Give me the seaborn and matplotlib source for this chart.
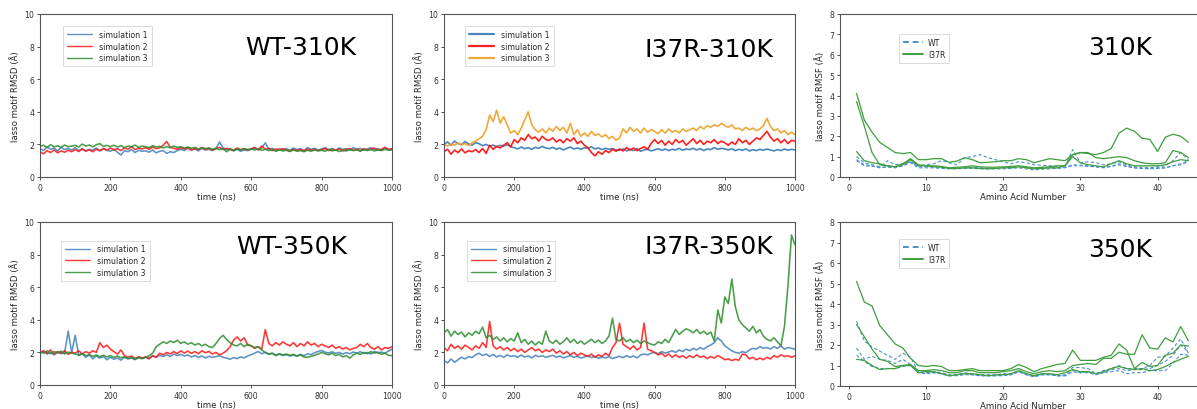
import numpy as np
import pandas as pd
import matplotlib
matplotlib.use("Agg")
import matplotlib.pyplot as plt
import seaborn as sns

# ---------------- data ----------------
time_ns = list(range(0, 1001, 10))
residues = list(range(1, 45))

wt310_s1 = [1.75,1.62,1.85,1.70,1.78,1.60,1.82,1.68,1.75,1.65,
            1.80,1.62,1.74,1.58,1.70,1.66,1.78,1.60,1.72,1.64,
            1.58,1.70,1.52,1.35,1.62,1.55,1.68,1.50,1.64,1.58,
            1.60,1.52,1.66,1.48,1.58,1.62,1.45,1.55,1.50,1.62,
            1.70,1.62,1.78,1.66,1.72,1.60,1.76,1.65,1.70,1.62,
            1.75,2.15,1.80,1.68,1.74,1.60,1.70,1.58,1.66,1.62,
            1.70,1.82,1.65,1.78,2.10,1.70,1.76,1.62,1.72,1.66,
            1.74,1.64,1.78,1.68,1.75,1.62,1.80,1.70,1.76,1.66,
            1.72,1.80,1.68,1.75,1.64,1.78,1.70,1.74,1.66,1.80,
            1.70,1.76,1.64,1.72,1.80,1.68,1.74,1.66,1.78,1.70,
            1.72]
wt310_s2 = [1.55,1.42,1.62,1.50,1.66,1.48,1.60,1.52,1.64,1.55,
            1.68,1.56,1.72,1.60,1.66,1.55,1.70,1.62,1.75,1.65,
            1.78,1.66,1.74,1.62,1.80,1.70,1.86,1.68,1.78,1.72,
            1.80,1.70,1.84,1.74,1.78,1.95,2.18,1.82,1.76,1.70,
            1.80,1.72,1.78,1.66,1.74,1.68,1.80,1.70,1.76,1.66,
            1.74,1.82,1.68,1.76,1.70,1.64,1.78,1.68,1.74,1.66,
            1.72,1.80,1.68,1.90,1.70,1.76,1.62,1.72,1.68,1.74,
            1.66,1.58,1.70,1.62,1.68,1.60,1.72,1.64,1.70,1.62,
            1.68,1.75,1.62,1.70,1.64,1.72,1.60,1.68,1.74,1.64,
            1.70,1.62,1.74,1.66,1.72,1.78,1.64,1.70,1.82,1.68,
            1.74]
wt310_s3 = [1.88,1.95,1.80,1.98,1.85,1.92,1.82,1.96,1.86,1.90,
            1.94,1.84,2.02,1.90,1.96,1.85,1.98,2.05,1.88,1.94,
            1.86,1.95,1.84,1.92,1.80,1.90,1.85,1.96,1.82,1.90,
            1.86,1.80,1.92,1.84,1.88,1.78,1.86,1.80,1.90,1.82,
            1.86,1.78,1.84,1.76,1.82,1.72,1.80,1.74,1.78,1.70,
            1.76,1.68,1.74,1.55,1.70,1.62,1.72,1.66,1.74,1.68,
            1.72,1.66,1.74,1.64,1.70,1.62,1.68,1.58,1.66,1.60,
            1.64,1.56,1.66,1.58,1.62,1.55,1.64,1.58,1.66,1.60,
            1.64,1.58,1.68,1.60,1.66,1.56,1.64,1.60,1.68,1.62,
            1.66,1.58,1.70,1.62,1.68,1.60,1.66,1.62,1.70,1.64,
            1.66]

i37r310_s1 = [2.00,2.15,1.95,2.20,2.05,1.98,2.18,2.02,1.96,2.10,
              2.05,1.92,2.00,1.88,1.96,1.85,1.94,1.90,1.98,1.86,
              1.80,1.72,1.84,1.74,1.80,1.70,1.82,1.76,1.88,1.78,
              1.74,1.82,1.70,1.78,1.66,1.76,1.84,1.72,1.78,1.70,
              1.80,1.74,1.86,1.72,1.78,1.68,1.76,1.70,1.74,1.66,
              1.64,1.72,1.60,1.70,1.62,1.74,1.58,1.66,1.70,1.60,
              1.66,1.74,1.64,1.72,1.62,1.70,1.66,1.76,1.64,1.72,
              1.68,1.76,1.66,1.74,1.62,1.72,1.68,1.80,1.70,1.76,
              1.72,1.66,1.74,1.62,1.70,1.64,1.72,1.60,1.68,1.62,
              1.70,1.64,1.72,1.66,1.60,1.68,1.62,1.72,1.64,1.70,
              1.66]
i37r310_s2 = [1.55,1.70,1.40,1.65,1.50,1.72,1.48,1.62,1.55,1.68,
              1.50,1.75,1.45,1.95,1.70,1.88,1.78,1.96,2.10,1.85,
              2.30,2.10,2.40,2.25,2.60,2.35,2.45,2.20,2.50,2.30,
              2.25,2.40,2.15,2.30,2.10,2.35,2.20,2.40,2.05,2.20,
              1.95,1.80,1.50,1.30,1.55,1.40,1.62,1.50,1.70,1.58,
              1.72,1.60,1.80,1.65,1.78,1.62,1.75,1.85,1.70,2.05,
              2.30,2.05,2.25,1.95,2.20,2.00,2.30,2.10,2.25,1.95,
              2.15,2.35,2.05,2.25,2.00,2.20,2.10,2.30,2.05,2.20,
              2.10,1.95,2.15,2.00,2.35,2.10,2.25,2.00,2.20,2.40,
              2.30,2.55,2.80,2.45,2.20,2.35,2.10,2.30,2.05,2.25,
              2.20]
i37r310_s3 = [2.00,1.90,2.05,1.95,2.10,1.98,2.05,1.92,2.10,2.20,
              2.35,2.50,2.90,3.80,3.40,4.10,3.30,3.70,3.20,2.70,
              2.85,2.60,3.00,3.50,4.00,3.20,2.90,2.75,2.95,2.70,
              3.00,2.80,3.10,2.85,3.05,2.70,3.30,2.60,2.90,2.50,
              2.70,2.50,2.80,2.55,2.65,2.45,2.60,2.35,2.50,2.25,
              2.40,2.95,2.70,3.05,2.80,2.95,2.70,3.00,2.75,2.90,
              2.80,2.65,2.90,2.70,2.95,2.75,2.85,2.70,2.95,2.80,
              2.90,3.00,2.85,3.10,2.95,3.15,3.05,3.20,3.10,3.30,
              3.15,3.05,3.20,2.95,3.00,2.85,3.05,2.90,3.00,2.85,
              2.95,3.15,3.60,3.10,2.85,2.95,2.70,2.85,2.60,2.75,
              2.60]

wt350_s1 = [1.95,2.05,1.90,2.00,1.85,2.00,1.92,1.98,3.30,2.00,
            3.05,1.80,1.92,1.70,1.85,1.60,1.78,1.65,1.75,1.55,
            1.70,1.58,1.66,1.52,1.70,1.60,1.65,1.55,1.68,1.62,
            1.70,1.65,1.78,1.70,1.82,1.75,1.86,1.74,1.90,1.80,
            1.88,1.78,1.84,1.72,1.80,1.70,1.78,1.66,1.76,1.70,
            1.74,1.80,1.70,1.65,1.58,1.68,1.62,1.72,1.66,1.78,
            1.86,1.96,2.05,1.92,2.00,1.88,1.95,1.84,1.90,1.80,
            1.86,1.78,1.84,1.76,1.88,1.80,1.92,1.86,1.98,2.06,
            2.12,2.02,1.96,2.04,1.94,2.00,1.90,1.98,1.92,2.02,
            1.96,2.04,1.94,2.00,1.90,2.06,1.96,2.02,1.94,2.08,
            2.20]
wt350_s2 = [2.00,2.10,1.95,2.15,1.90,2.05,1.95,2.10,1.88,2.02,
            1.95,2.10,1.90,2.05,1.95,2.10,2.00,2.60,2.30,2.45,
            2.20,2.05,1.90,2.15,1.80,1.70,1.78,1.62,1.74,1.66,
            1.72,1.60,1.80,1.70,1.95,1.85,2.00,1.90,2.05,1.92,
            2.10,1.96,2.08,1.94,2.05,1.92,2.10,1.98,2.06,1.90,
            2.00,1.85,1.95,2.10,2.35,2.75,2.95,2.70,2.90,2.45,
            2.40,2.25,2.35,2.20,3.40,2.55,2.40,2.60,2.45,2.65,
            2.50,2.40,2.60,2.35,2.55,2.40,2.65,2.45,2.55,2.35,
            2.50,2.40,2.30,2.45,2.25,2.35,2.20,2.30,2.15,2.25,
            2.30,2.50,2.35,2.55,2.30,2.20,2.35,2.15,2.30,2.25,
            2.35]
wt350_s3 = [2.05,1.95,2.10,1.92,2.05,1.98,2.08,1.90,2.02,1.95,
            1.90,1.84,1.92,1.80,1.86,1.76,1.84,1.74,1.82,1.72,
            1.80,1.70,1.78,1.66,1.74,1.62,1.70,1.60,1.68,1.62,
            1.70,1.80,1.95,2.35,2.50,2.65,2.55,2.70,2.60,2.75,
            2.55,2.65,2.50,2.60,2.45,2.55,2.40,2.50,2.35,2.30,
            2.55,2.85,3.05,2.80,2.60,2.45,2.40,2.55,2.35,2.50,
            2.40,2.30,2.35,2.15,2.00,1.90,1.95,1.80,1.92,1.85,
            1.90,1.82,1.88,1.78,1.84,1.72,1.70,1.76,1.82,1.90,
            2.00,1.92,1.85,1.95,1.80,1.88,1.72,1.80,1.65,1.85,
            1.95,1.88,2.00,1.92,2.05,1.95,2.02,1.88,1.96,1.82,
            1.80]

i37r350_s1 = [1.50,1.35,1.60,1.40,1.55,1.70,1.60,1.75,1.68,1.85,
              1.95,1.80,1.90,1.75,1.88,1.72,1.82,1.70,1.85,1.75,
              1.80,1.70,1.84,1.72,1.78,1.66,1.82,1.74,1.80,1.70,
              1.76,1.82,1.70,1.78,1.66,1.74,1.80,1.70,1.76,1.66,
              1.72,1.80,1.68,1.76,1.64,1.72,1.66,1.74,1.62,1.70,
              1.76,1.68,1.80,1.70,1.78,1.66,1.84,1.90,1.85,1.95,
              2.00,1.92,2.05,1.96,2.02,2.10,2.00,2.15,2.05,2.20,
              2.10,2.25,2.15,2.30,2.20,2.35,2.45,2.60,2.90,2.70,
              2.40,2.25,2.10,2.00,1.95,2.05,1.98,2.15,2.25,2.20,
              2.35,2.25,2.30,2.20,2.35,2.25,2.40,2.20,2.30,2.25,
              2.20]
i37r350_s2 = [2.30,2.10,2.50,2.25,2.40,2.20,2.45,2.30,2.15,2.40,
              2.25,2.60,2.30,3.90,2.40,2.20,2.35,2.15,2.30,2.10,
              2.25,2.05,2.20,2.00,2.15,2.30,2.10,2.20,2.00,2.15,
              2.05,2.20,1.95,2.10,1.90,2.05,1.85,2.00,1.80,1.95,
              1.85,1.75,1.90,1.70,1.85,1.75,1.95,1.80,2.30,2.60,
              3.80,2.50,2.35,2.20,2.40,2.15,2.30,3.80,2.20,2.10,
              2.00,1.85,1.95,1.75,1.90,1.70,1.85,1.70,1.80,1.65,
              1.80,1.68,1.85,1.70,1.78,1.62,1.75,1.65,1.80,1.70,
              1.55,1.60,1.50,1.58,1.52,1.90,1.85,1.60,1.70,1.55,
              1.65,1.55,1.70,1.60,1.80,1.70,1.85,1.75,1.80,1.70,
              1.80]
i37r350_s3 = [3.20,3.40,3.00,3.30,3.10,3.25,2.95,3.20,3.05,3.30,
              3.15,3.55,2.90,3.05,2.80,2.95,2.70,2.90,2.65,2.85,
              2.70,3.20,2.60,2.80,2.50,2.70,2.45,2.65,2.50,3.30,
              2.70,2.55,2.75,2.50,2.65,2.90,2.60,2.80,2.55,2.70,
              2.50,2.65,2.80,2.60,2.75,2.55,2.70,3.00,4.10,2.80,
              2.70,2.90,2.65,2.80,2.60,2.75,2.55,2.70,2.60,2.50,
              2.45,2.65,2.55,2.80,2.60,3.00,3.40,3.10,3.30,3.45,
              3.35,3.20,3.40,3.15,3.30,3.10,3.25,2.70,4.60,3.80,
              5.40,5.00,6.50,4.80,4.00,3.70,3.50,3.30,3.60,3.20,
              3.40,3.00,2.80,2.70,2.90,2.65,2.40,3.60,6.10,9.20,
              8.60]

# RMSF 310K
wt310_rmsf1 = [1.00,0.70,0.60,0.50,0.80,0.60,0.65,0.75,0.55,0.60,
               0.65,0.80,0.70,0.60,0.95,1.00,1.10,0.95,0.85,0.75,
               0.65,0.75,0.70,0.60,0.58,0.55,0.52,0.50,1.35,0.70,
               0.75,0.70,0.60,0.65,0.75,0.60,0.50,0.48,0.45,0.50,
               0.55,0.80,1.20,0.85]
wt310_rmsf2 = [0.85,0.60,0.55,0.45,0.50,0.50,0.55,0.75,0.50,0.50,
               0.50,0.48,0.45,0.42,0.45,0.48,0.45,0.42,0.42,0.45,
               0.48,0.52,0.48,0.42,0.45,0.45,0.45,0.48,0.55,0.55,
               0.52,0.50,0.48,0.52,0.60,0.50,0.45,0.42,0.42,0.45,
               0.45,0.55,0.65,0.80]
wt310_rmsf3 = [0.80,0.55,0.52,0.50,0.48,0.45,0.55,0.70,0.45,0.45,
               0.45,0.42,0.40,0.40,0.42,0.42,0.40,0.40,0.40,0.40,
               0.42,0.45,0.40,0.35,0.38,0.40,0.42,0.45,0.60,0.58,
               0.55,0.50,0.45,0.52,0.65,0.55,0.45,0.42,0.40,0.42,
               0.45,0.55,0.60,0.75]
i37r310_rmsf1 = [4.10,2.80,2.20,1.70,1.45,1.20,1.15,1.20,0.85,0.85,
                 0.90,0.90,0.72,0.78,0.95,0.85,0.70,0.72,0.75,0.80,
                 0.80,0.90,0.85,0.70,0.80,0.90,0.85,0.80,1.10,1.20,
                 1.15,1.10,1.20,1.40,2.15,2.40,2.25,1.90,1.85,1.25,
                 1.95,2.10,2.00,1.70]
i37r310_rmsf2 = [3.70,2.50,1.20,0.60,0.55,0.50,0.60,0.85,0.55,0.55,
                 0.55,0.52,0.45,0.48,0.50,0.55,0.50,0.48,0.48,0.50,
                 0.52,0.55,0.50,0.45,0.48,0.50,0.55,0.55,1.10,1.20,
                 1.20,0.95,0.90,0.95,1.00,0.95,0.80,0.70,0.65,0.65,
                 0.70,1.30,1.20,0.95]
i37r310_rmsf3 = [1.25,0.80,0.70,0.65,0.55,0.50,0.65,0.90,0.60,0.55,
                 0.50,0.48,0.42,0.42,0.45,0.45,0.42,0.40,0.42,0.45,
                 0.45,0.50,0.45,0.40,0.42,0.45,0.45,0.55,1.00,0.70,
                 0.60,0.55,0.50,0.65,0.80,0.65,0.55,0.55,0.55,0.55,
                 0.60,0.75,0.85,0.80]

# RMSF 350K
wt350_rmsf1 = [3.15,2.20,1.90,1.70,1.50,1.30,1.60,1.40,0.70,0.65,
               0.70,0.65,0.55,0.55,0.65,0.60,0.55,0.55,0.55,0.60,
               0.60,0.75,0.60,0.50,0.60,0.60,0.50,0.55,0.90,0.90,
               0.85,0.60,0.75,0.85,1.00,0.85,0.85,0.85,1.00,1.40,
               1.45,1.85,2.30,1.60]
wt350_rmsf2 = [1.85,1.30,1.45,1.30,1.25,1.10,1.30,1.05,0.65,0.65,
               0.65,0.60,0.50,0.55,0.60,0.55,0.50,0.50,0.50,0.55,
               0.55,0.70,0.55,0.45,0.55,0.55,0.50,0.50,0.75,0.65,
               0.70,0.60,0.65,0.70,0.75,0.60,0.65,0.65,0.75,0.75,
               0.75,1.10,1.55,1.50]
wt350_rmsf3 = [1.50,1.20,0.95,0.85,0.85,0.85,0.95,1.00,0.65,0.60,
               0.65,0.60,0.50,0.50,0.55,0.55,0.50,0.50,0.50,0.50,
               0.55,0.70,0.55,0.45,0.55,0.55,0.50,0.50,0.70,0.65,
               0.65,0.55,0.65,0.80,0.85,0.75,0.80,0.80,0.85,1.00,
               1.20,1.50,2.00,1.65]
i37r350_rmsf1 = [5.10,4.10,3.90,2.95,2.50,2.05,1.85,1.35,1.00,0.95,
                 1.00,0.95,0.75,0.75,0.80,0.85,0.75,0.75,0.75,0.75,
                 0.85,1.05,0.90,0.70,0.85,0.95,1.05,1.10,1.75,1.25,
                 1.25,1.25,1.40,1.50,2.05,1.75,0.85,1.15,0.95,1.00,
                 1.50,1.60,2.00,1.95]
i37r350_rmsf2 = [3.00,2.40,1.80,1.30,1.20,0.95,1.00,1.05,0.75,0.75,
                 0.80,0.75,0.65,0.65,0.75,0.75,0.65,0.65,0.65,0.70,
                 0.75,0.85,0.70,0.60,0.70,0.75,0.70,0.75,1.00,1.05,
                 1.10,1.05,1.35,1.35,1.65,1.55,1.55,2.50,1.85,1.80,
                 2.35,2.15,2.90,2.20]
i37r350_rmsf3 = [1.30,1.25,1.00,0.80,0.85,0.85,1.00,1.00,0.65,0.70,
                 0.70,0.60,0.50,0.55,0.60,0.60,0.55,0.50,0.55,0.55,
                 0.60,0.75,0.60,0.50,0.60,0.60,0.55,0.65,0.80,0.70,
                 0.70,0.60,0.70,0.85,0.95,0.85,0.80,0.85,0.75,0.80,
                 0.95,1.15,1.30,1.45]

sim_labels = ["simulation 1", "simulation 2", "simulation 3"]

# ---------------- style ----------------
sns.set_style("white")
plt.rcParams["font.family"] = ["DejaVu Sans"]
plt.rcParams["axes.edgecolor"] = "#555555"
plt.rcParams["axes.linewidth"] = 0.8
plt.rcParams["xtick.bottom"] = True
plt.rcParams["ytick.left"] = True
plt.rcParams["xtick.color"] = "#333333"
plt.rcParams["ytick.color"] = "#333333"

BLUE = "#3f7fbb"
RED = "#ff1414"
GREEN = "#2a8c2a"
ORANGE = "#eea52e"
RMSF_BLUE = "#4a90d0"
RMSF_GREEN = "#3e9e3e"

W, H = 1197, 410
fig = plt.figure(figsize=(W / 100, H / 100), dpi=100)

def frac(left, top, right, bottom):
    return [left / W, 1 - bottom / H, (right - left) / W, (bottom - top) / H]

axes_pos = {
    (0, 0): frac(40, 15, 392, 178),
    (0, 1): frac(444, 15, 795, 178),
    (0, 2): frac(840, 15, 1205, 178),
    (1, 0): frac(40, 223, 392, 386),
    (1, 1): frac(444, 223, 795, 386),
    (1, 2): frac(840, 223, 1205, 387),
}

TICK_FS = 5.6
LABEL_FS = 6.2
LEG_FS = 5.6
TITLE_FS = 18

def rmsd_panel(pos, series, colors, title, title_xy, leg_anchor, lw=1.15, alpha=0.9):
    ax = fig.add_axes(pos)
    frames = []
    for s, lab in zip(series, sim_labels):
        frames.append(pd.DataFrame({"time": time_ns, "rmsd": s, "sim": lab}))
    df = pd.concat(frames, ignore_index=True)
    sns.lineplot(data=df, x="time", y="rmsd", hue="sim", palette=colors,
                 hue_order=sim_labels, ax=ax, lw=lw, alpha=alpha,
                 estimator=None, sort=False)
    ax.set_xlim(0, 1000)
    ax.set_ylim(0, 10)
    ax.set_xticks([0, 200, 400, 600, 800, 1000])
    ax.set_yticks([0, 2, 4, 6, 8, 10])
    ax.set_xlabel("time (ns)", fontsize=LABEL_FS, labelpad=0)
    ax.set_ylabel("lasso motif RMSD (Å)", fontsize=LABEL_FS, labelpad=3)
    ax.tick_params(labelsize=TICK_FS, length=2.5, width=0.6, pad=1.5)
    ax.text(title_xy[0], title_xy[1], title, transform=ax.transAxes,
            fontsize=TITLE_FS, ha="center", va="center", color="black")
    leg = ax.legend(loc="upper left", bbox_to_anchor=leg_anchor, fontsize=LEG_FS,
                    handlelength=3.2, frameon=True, borderpad=0.5,
                    labelspacing=0.35, handletextpad=0.9, fancybox=False)
    leg.get_frame().set_edgecolor("#cccccc")
    leg.get_frame().set_linewidth(0.6)
    for line in leg.get_lines():
        line.set_linewidth(1.0)
    for s in ax.spines.values():
        s.set_visible(True)
    return ax

def rmsf_panel(pos, wt, mut, title, title_xy, leg_anchor):
    ax = fig.add_axes(pos)
    for i, s in enumerate(wt):
        sns.lineplot(x=residues, y=s, ax=ax, color=RMSF_BLUE, lw=0.8,
                     linestyle=(0, (3, 2)), label="WT" if i == 0 else None)
    for i, s in enumerate(mut):
        sns.lineplot(x=residues, y=s, ax=ax, color=RMSF_GREEN, lw=0.9,
                     label="I37R" if i == 0 else None)
    ax.set_xlim(-1.15, 46.15)
    ax.set_ylim(0, 8)
    ax.set_xticks([0, 10, 20, 30, 40])
    ax.set_yticks(range(0, 9))
    ax.set_xlabel("Amino Acid Number", fontsize=LABEL_FS, labelpad=0)
    ax.set_ylabel("lasso motif RMSF (Å)", fontsize=LABEL_FS, labelpad=3)
    ax.tick_params(labelsize=TICK_FS, length=2.5, width=0.6, pad=1.5)
    ax.text(title_xy[0], title_xy[1], title, transform=ax.transAxes,
            fontsize=TITLE_FS, ha="center", va="center", color="black")
    leg = ax.legend(loc="upper left", bbox_to_anchor=leg_anchor, fontsize=LEG_FS,
                    handlelength=2.6, frameon=True, borderpad=0.5,
                    labelspacing=0.35, handletextpad=0.7, fancybox=False)
    leg.get_frame().set_edgecolor("#cccccc")
    leg.get_frame().set_linewidth(0.6)
    for line in leg.get_lines():
        line.set_linewidth(1.4)
    for s in ax.spines.values():
        s.set_visible(True)
    return ax

rmsd_panel(axes_pos[(0, 0)], [wt310_s1, wt310_s2, wt310_s3], [BLUE, RED, GREEN],
           "WT-310K", (0.74, 0.80), (0.055, 0.95), alpha=0.85)
ax2 = rmsd_panel(axes_pos[(0, 1)], [i37r310_s1, i37r310_s2, i37r310_s3], [BLUE, RED, ORANGE],
                 "I37R-310K", (0.755, 0.785), (0.05, 0.95), lw=1.2, alpha=0.95)
for line in ax2.get_legend().get_lines():
    line.set_linewidth(1.6)
rmsf_panel(axes_pos[(0, 2)], [wt310_rmsf1, wt310_rmsf2, wt310_rmsf3],
           [i37r310_rmsf1, i37r310_rmsf2, i37r310_rmsf3], "310K", (0.767, 0.80), (0.15, 0.90))

rmsd_panel(axes_pos[(1, 0)], [wt350_s1, wt350_s2, wt350_s3], [BLUE, RED, GREEN],
           "WT-350K", (0.715, 0.85), (0.05, 0.91), alpha=0.85)
rmsd_panel(axes_pos[(1, 1)], [i37r350_s1, i37r350_s2, i37r350_s3], [BLUE, RED, GREEN],
           "I37R-350K", (0.755, 0.85), (0.055, 0.91), alpha=0.85)
rmsf_panel(axes_pos[(1, 2)], [wt350_rmsf1, wt350_rmsf2, wt350_rmsf3],
           [i37r350_rmsf1, i37r350_rmsf2, i37r350_rmsf3], "350K", (0.767, 0.835), (0.15, 0.92))

fig.savefig("out.png", dpi=100)
